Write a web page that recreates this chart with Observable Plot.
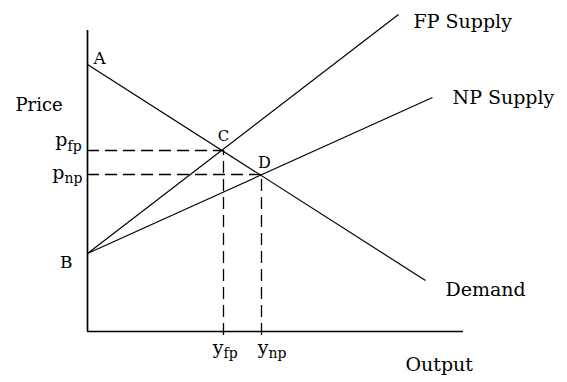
<!DOCTYPE html>
<html><head><meta charset="utf-8">
<script src="https://cdn.jsdelivr.net/npm/d3@7"></script>
<script src="https://cdn.jsdelivr.net/npm/@observablehq/plot@0.6"></script>
<style>body{margin:0;background:#fff}</style>
</head><body><div id="chart"></div>
<script>
// Curves (output, price)
const curveNames = ["Demand", "FP Supply", "NP Supply"];
const curveStartOutput = [0, 0, 0];
const curveStartPrice = [267, 78, 78];
const curveEndOutput = [338, 311, 345];
const curveEndPrice = [51, 317, 234];
// Equilibria
const eqNames = ["C", "D"];
const eqOutput = [136, 174];
const eqPrice = [181, 157];
const eqSubs = ["fp", "np"];
// Axis extents
const axisMaxOutput = 376;
const axisMaxPrice = 301;

const curves = curveNames.map((name, i) => ({
  name, x1: curveStartOutput[i], y1: curveStartPrice[i], x2: curveEndOutput[i], y2: curveEndPrice[i]
}));
const eq = eqNames.map((name, i) => ({name, x: eqOutput[i], y: eqPrice[i], sub: eqSubs[i]}));

const font = "DejaVu Serif";
const t = (data, o) => Plot.text(data, {fontFamily: font, fill: "black", lineAnchor: "bottom", ...o});
const wide = {fontSize: 19, letterSpacing: "1px"};

const chart = Plot.plot({
  width: 567, height: 382,
  marginLeft: 87, marginRight: 0, marginTop: 0, marginBottom: 51,
  x: {domain: [0, 480], axis: null},
  y: {domain: [0, 331], axis: null},
  style: {fontFamily: font, background: "white"},
  marks: [
    // dashed guides
    Plot.ruleY(eq, {y: "y", x1: 0, x2: "x", stroke: "black", strokeWidth: 1.3, strokeDasharray: "12,6"}),
    Plot.ruleX(eq, {x: "x", y1: -4, y2: "y", stroke: "black", strokeWidth: 1.3, strokeDasharray: "12,6"}),
    // curves
    Plot.link(curves, {x1: "x1", y1: "y1", x2: "x2", y2: "y2", stroke: "black", strokeWidth: 1.2}),
    // axes
    Plot.ruleX([0], {y1: 0, y2: axisMaxPrice, stroke: "black", strokeWidth: 1.7}),
    Plot.ruleY([0], {x1: 0, x2: axisMaxOutput, stroke: "black", strokeWidth: 1.7}),
    // curve labels
    t([curves[1]], {x: "x2", y: "y2", text: "name", textAnchor: "start", dx: 15, dy: 13, ...wide}),
    t([curves[2]], {x: "x2", y: "y2", text: "name", textAnchor: "start", dx: 20, dy: 6, ...wide}),
    t([curves[0]], {x: "x2", y: "y2", text: "name", textAnchor: "start", dx: 20, dy: 15, ...wide}),
    // point labels
    t([curves[0]], {x: "x1", y: "y1", text: () => "A", textAnchor: "start", dx: 6, dy: -1, fontSize: 17}),
    t([curves[1]], {x: "x1", y: "y1", text: () => "B", textAnchor: "end", dx: -15, dy: 14, fontSize: 17}),
    t([eq[0]], {x: "x", y: "y", text: "name", textAnchor: "middle", dx: 0, dy: -10, fontSize: 15}),
    t([eq[1]], {x: "x", y: "y", text: "name", textAnchor: "middle", dx: 3, dy: -7, fontSize: 16}),
    // price labels p_fp, p_np
    t([eq[0]], {x: 0, y: "y", text: () => "p", textAnchor: "end", dx: -20, dy: -5, fontSize: 19}),
    t([eq[0]], {x: 0, y: "y", text: "sub", textAnchor: "start", dx: -20, dy: 0, fontSize: 14}),
    t([eq[1]], {x: 0, y: "y", text: () => "p", textAnchor: "end", dx: -23, dy: 4, fontSize: 19}),
    t([eq[1]], {x: 0, y: "y", text: "sub", textAnchor: "start", dx: -23, dy: 8, fontSize: 14}),
    // output labels y_fp, y_np
    t([eq[0]], {x: "x", y: 0, text: () => "y", textAnchor: "end", dx: 0, dy: 22, fontSize: 19}),
    t([eq[0]], {x: "x", y: 0, text: "sub", textAnchor: "start", dx: 0, dy: 26, fontSize: 14}),
    t([eq[1]], {x: "x", y: 0, text: () => "y", textAnchor: "end", dx: 7, dy: 22, fontSize: 19}),
    t([eq[1]], {x: "x", y: 0, text: "sub", textAnchor: "start", dx: 7, dy: 26, fontSize: 14}),
    // axis titles
    Plot.text(["Price"], {frameAnchor: "top-left", textAnchor: "start", lineAnchor: "bottom", dx: -72, dy: 110, fontSize: 18, fontFamily: font, fill: "black"}),
    Plot.text(["Output"], {frameAnchor: "bottom-left", textAnchor: "start", lineAnchor: "bottom", dx: 318, dy: 39, fontFamily: font, fill: "black", ...wide})
  ]
});
document.getElementById("chart").appendChild(chart);
</script>
</body></html>
